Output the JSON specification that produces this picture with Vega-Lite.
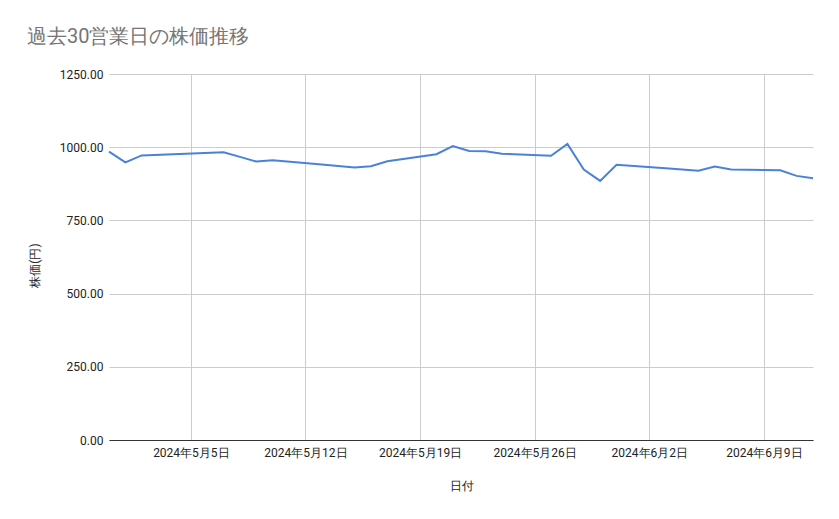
{
  "$schema": "https://vega.github.io/schema/vega-lite/v6.json",
  "autosize": {"type": "none"},
  "padding": {"left": 109, "top": 74, "right": 26, "bottom": 79},
  "width": 704,
  "height": 366,
  "background": "white",
  "config": {
    "font": "Roboto",
    "view": {"stroke": null}
  },
  "title": {
    "text": "過去30営業日の株価推移",
    "anchor": "start",
    "frame": "group",
    "dx": -82,
    "offset": 21,
    "fontSize": 20,
    "fontWeight": "normal",
    "color": "#757575",
    "font": "Roboto"
  },
  "data": {
    "values": [
      {"date": "2024-04-30", "price": 985},
      {"date": "2024-05-01", "price": 948},
      {"date": "2024-05-02", "price": 972},
      {"date": "2024-05-07", "price": 983},
      {"date": "2024-05-08", "price": 967},
      {"date": "2024-05-09", "price": 951},
      {"date": "2024-05-10", "price": 955},
      {"date": "2024-05-13", "price": 941},
      {"date": "2024-05-14", "price": 936},
      {"date": "2024-05-15", "price": 931},
      {"date": "2024-05-16", "price": 935},
      {"date": "2024-05-17", "price": 952},
      {"date": "2024-05-20", "price": 976},
      {"date": "2024-05-21", "price": 1004},
      {"date": "2024-05-22", "price": 987},
      {"date": "2024-05-23", "price": 986},
      {"date": "2024-05-24", "price": 978},
      {"date": "2024-05-27", "price": 971},
      {"date": "2024-05-28", "price": 1011},
      {"date": "2024-05-29", "price": 924},
      {"date": "2024-05-30", "price": 885},
      {"date": "2024-05-31", "price": 940},
      {"date": "2024-06-03", "price": 928},
      {"date": "2024-06-04", "price": 924},
      {"date": "2024-06-05", "price": 920},
      {"date": "2024-06-06", "price": 934},
      {"date": "2024-06-07", "price": 924},
      {"date": "2024-06-10", "price": 921},
      {"date": "2024-06-11", "price": 902},
      {"date": "2024-06-12", "price": 894}
    ]
  },
  "mark": {"type": "line", "color": "#4a82d8", "strokeWidth": 2},
  "encoding": {
    "x": {
      "field": "date",
      "type": "temporal",
      "scale": {"type": "utc", "nice": false},
      "axis": {
        "title": "日付",
        "titleFontSize": 12,
        "titleFontWeight": "normal",
        "titleColor": "#222222",
        "titlePadding": 22,
        "values": [
          {"year": 2024, "month": 5, "date": 5, "utc": true},
          {"year": 2024, "month": 5, "date": 12, "utc": true},
          {"year": 2024, "month": 5, "date": 19, "utc": true},
          {"year": 2024, "month": 5, "date": 26, "utc": true},
          {"year": 2024, "month": 6, "date": 2, "utc": true},
          {"year": 2024, "month": 6, "date": 9, "utc": true}
        ],
        "labelExpr": "utcFormat(datum.value, '%Y年%-m月%-d日')",
        "labelFontSize": 12,
        "labelColor": "#222222",
        "labelPadding": 7,
        "ticks": false,
        "domain": true,
        "domainColor": "#333333",
        "grid": true,
        "gridColor": "#cccccc"
      }
    },
    "y": {
      "field": "price",
      "type": "quantitative",
      "scale": {"domain": [0, 1250], "nice": false, "zero": true},
      "axis": {
        "title": "株価(円)",
        "titleFontSize": 12,
        "titleFontWeight": "normal",
        "titleColor": "#222222",
        "titlePadding": 18,
        "titleY": 191,
        "values": [0, 250, 500, 750, 1000, 1250],
        "format": ".2f",
        "labelFontSize": 12,
        "labelColor": "#222222",
        "labelPadding": 6,
        "ticks": false,
        "domain": false,
        "grid": true,
        "gridColor": "#cccccc"
      }
    }
  }
}
